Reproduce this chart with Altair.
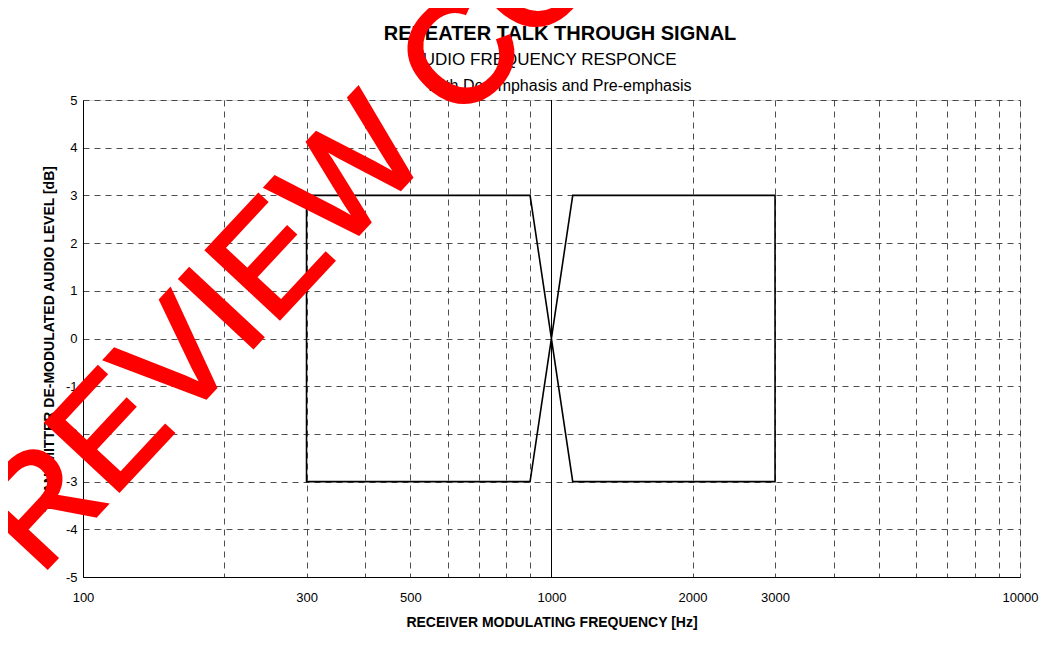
import altair as alt
import pandas as pd

# Mask outline (Hz, dB) drawn in order
freq = [300, 900, 1110, 3000, 3000, 1110, 900, 300, 300]
level = [3, 3, -3, -3, 3, 3, -3, -3, 3]
ref_freq = [1000]

x_grid = [100, 200, 300, 400, 500, 600, 700, 800, 900,
          1000, 2000, 3000, 4000, 5000, 6000, 7000, 8000, 9000, 10000]
x_labels = [100, 300, 500, 1000, 2000, 3000, 10000]
y_ticks = [-5, -4, -3, -2, -1, 0, 1, 2, 3, 4, 5]

title_main = "REPEATER TALK THROUGH SIGNAL"
title_sub1 = "AUDIO FREQUENCY RESPONCE"
title_sub2 = "With De-emphasis and Pre-emphasis"
watermark = "PREVIEW COPY"

FONT = "Liberation Sans"
W, H = 937, 477

mask = pd.DataFrame({"f": freq, "db": level, "o": list(range(len(freq)))})
refdf = pd.DataFrame({"f": ref_freq})

label_expr = "indexof([" + ",".join(str(v) for v in x_labels) + "], datum.value) >= 0 ? '' + datum.value : ''"

xscale = alt.Scale(type="log", domain=[100, 10000], nice=False)
yscale = alt.Scale(domain=[-5, 5], nice=False)

xaxis = alt.Axis(values=x_grid, labelExpr=label_expr, ticks=False,
                 grid=True, gridDash=[6, 5], gridColor="#222", gridWidth=0.8,
                 domainColor="black", labelFont=FONT, labelFontSize=13,
                 labelColor="black", labelPadding=14, labelFlush=False,
                 title="RECEIVER MODULATING FREQUENCY [Hz]", titleFont=FONT,
                 titleFontSize=14, titleFontWeight="bold", titleColor="black",
                 titlePadding=11)
yaxis = alt.Axis(values=y_ticks, labelExpr="'' + datum.value", ticks=False,
                 grid=True, gridDash=[6, 5], gridColor="#222", gridWidth=0.8,
                 domainColor="black", labelFont=FONT, labelFontSize=13,
                 labelColor="black", labelPadding=6, labelFlush=False,
                 title="TRANSMITTER DE-MODULATED AUDIO LEVEL [dB]", titleFont=FONT,
                 titleFontSize=14, titleFontWeight="bold", titleColor="black",
                 titlePadding=9)

lines = alt.Chart(mask).mark_line(color="black", strokeWidth=1.6).encode(
    x=alt.X("f:Q", scale=xscale, axis=xaxis),
    y=alt.Y("db:Q", scale=yscale, axis=yaxis),
    order="o:Q",
)

rule = alt.Chart(refdf).mark_rule(color="black", strokeWidth=1).encode(
    x=alt.X("f:Q", scale=xscale)
)

def text_layer(txt, x, y, size, weight="normal", color="black", angle=0,
               align="center", font=FONT, stroke_w=0):
    kw = dict(font=font, fontSize=size, fontWeight=weight, color=color,
              angle=angle, align=align, baseline="alphabetic")
    if stroke_w:
        kw.update(stroke=color, strokeWidth=stroke_w)
    return alt.Chart(pd.DataFrame({"t": [txt]})).mark_text(**kw).encode(
        x=alt.value(x), y=alt.value(y), text="t:N")

t1 = text_layer(title_main, 477, -60, 20, "bold")
t2 = text_layer(title_sub1, 461, -35, 17)
t3 = text_layer(title_sub2, 476, -9, 16)
wm = text_layer(watermark, -110, 548, 146, "normal", "#ff0000", 313, "left",
                "Liberation Sans Narrow, Liberation Sans", 3)

chart = alt.layer(lines, rule, t1, t2, t3, wm).properties(
    width=W, height=H,
    autosize=alt.AutoSizeParams(type="none"),
    padding={"left": 75, "top": 92, "right": 25, "bottom": 60},
).configure_view(stroke="black", strokeWidth=1).configure(background="white")

chart.save("out.html", embed_options={"renderer": "svg", "actions": False})
